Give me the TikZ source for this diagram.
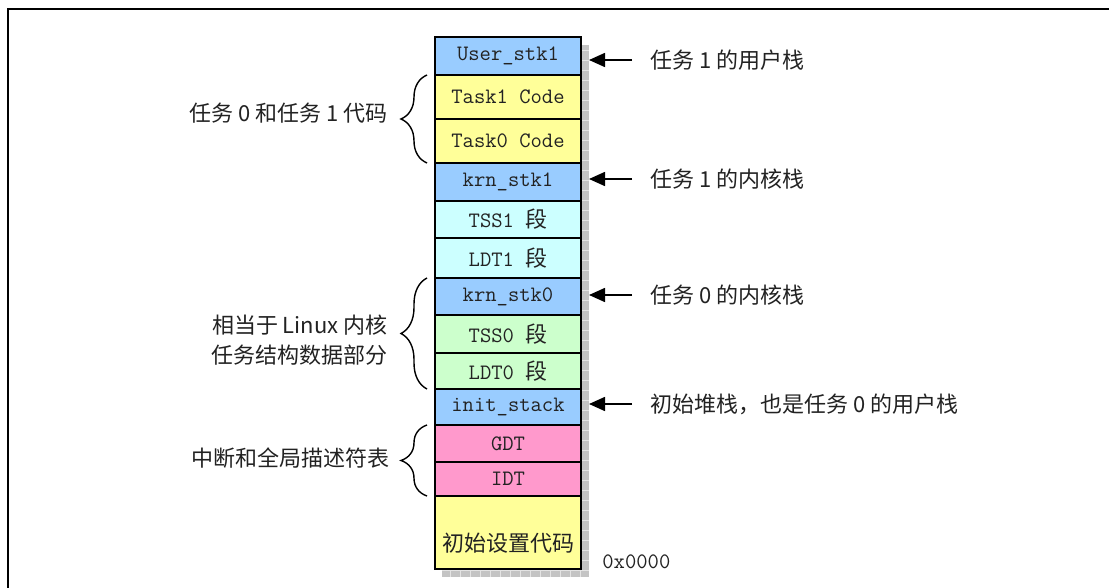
\documentclass[tikz,border=0pt]{standalone}
\usepackage{fontspec}
\usepackage{tikz}
\usetikzlibrary{arrows.meta,positioning,decorations.pathreplacing}
\newfontfamily\cjk{Noto Sans CJK SC}
\definecolor{stkblue}{HTML}{99CCFF}
\definecolor{codeyel}{HTML}{FFFF99}
\definecolor{segcyan}{HTML}{CCFFFF}
\definecolor{seggreen}{HTML}{CCFFCC}
\definecolor{descpink}{HTML}{FF99CC}
\definecolor{shadebase}{HTML}{C4C4C4}
\definecolor{shadeline}{HTML}{E4E4E4}
\definecolor{ink}{HTML}{222222}
\newcommand{\lblsize}{\fontsize{11pt}{15pt}\selectfont}
\tikzset{
  cell/.style={draw=black, line width=1pt, minimum width=73pt, inner sep=1pt,
               outer sep=0pt, font=\lblsize\ttfamily, text=ink},
  ptr/.style={-{Triangle[length=8pt,width=7pt]}, line width=0.8pt, shorten <=9pt},
  rlabel/.style={anchor=west, inner sep=0pt, font=\lblsize\cjk, text=ink},
  llabel/.style={anchor=east, inner sep=0pt, align=right, font=\lblsize\cjk, text=ink},
  brace/.style={decorate, decoration={brace, amplitude=13pt}, line width=0.7pt},
  frame/.style={line width=1.2pt}
}

\begin{document}
\begin{tikzpicture}[x=0.5pt,y=-0.5pt]
    \useasboundingbox (0,0) rectangle (1109,588);
    % Outer frame
    \draw[frame] (8,620) |- (1140,9);

    % Shadow behind the column
    \fill[shadebase] (442,45) rectangle (589,577);
    \draw[shadeline, line width=0.4pt, step=5pt] (442,45) grid (589,577);
    \coordinate (shd) at (589,45);

    % Memory column, top to bottom
    \node[cell,fill=stkblue,minimum height=19pt] (ustk1) at (508,56) {User\_stk1};
    \node[cell,fill=codeyel,minimum height=22pt,below=0pt of ustk1] (task1) {Task1 Code};
    \node[cell,fill=codeyel,minimum height=22pt,below=0pt of task1] (task0) {Task0 Code};
    \node[cell,fill=stkblue,minimum height=19pt,below=0pt of task0] (kstk1) {krn\_stk1};
    \node[cell,fill=segcyan,minimum height=18.5pt,below=0pt of kstk1] (tss1) {TSS1 {\cjk 段}};
    \node[cell,fill=segcyan,minimum height=20pt,below=0pt of tss1] (ldt1) {LDT1 {\cjk 段}};
    \node[cell,fill=stkblue,minimum height=18.5pt,below=0pt of ldt1] (kstk0) {krn\_stk0};
    \node[cell,fill=seggreen,minimum height=19pt,below=0pt of kstk0] (tss0) {TSS0 {\cjk 段}};
    \node[cell,fill=seggreen,minimum height=18pt,below=0pt of tss0] (ldt0) {LDT0 {\cjk 段}};
    \node[cell,fill=stkblue,minimum height=18pt,below=0pt of ldt0] (istk) {init\_stack};
    \node[cell,fill=descpink,minimum height=18.5pt,below=0pt of istk] (gdt) {GDT};
    \node[cell,fill=descpink,minimum height=17pt,below=0pt of gdt] (idt) {IDT};
    \node[cell,fill=codeyel,minimum height=36.5pt,below=0pt of idt] (boot) {};
    \node[font=\lblsize\cjk, text=ink, inner sep=0pt] (bootTxt) at (508,543) {初始设置代码};
    \node[font=\lblsize\ttfamily, text=ink, anchor=west, inner sep=0pt] (base) at (602,562) {0x0000};

    % Pointers on the right
    \node[rlabel] (ustkNote) at (650,60) {任务 1 的用户栈};
    \node[rlabel] (kstk1Note) at (650,179) {任务 1 的内核栈};
    \node[rlabel] (kstk0Note) at (650,295) {任务 0 的内核栈};
    \node[rlabel] (istkNote) at (650,404) {初始堆栈，也是任务 0 的用户栈};
    \draw[ptr] (ustkNote.west) -- (ustkNote.west -| shd);
    \draw[ptr] (kstk1Note.west) -- (kstk1Note.west -| shd);
    \draw[ptr] (kstk0Note.west) -- (kstk0Note.west -| shd);
    \draw[ptr] (istkNote.west) -- (istkNote.west -| shd);

    % Braces on the left
    \draw[brace] ([xshift=-4pt]task0.south west) -- ([xshift=-4pt]task1.north west);
    \node[llabel] (codeNote) at (388,113) {任务 0 和任务 1 代码};
    \draw[brace] ([xshift=-4pt]ldt0.south west) -- ([xshift=-4pt]kstk0.north west);
    \node[llabel] (tssNote) at (388,340) {相当于 Linux 内核\\任务结构数据部分};
    \draw[brace] ([xshift=-4pt]idt.south west) -- ([xshift=-4pt]gdt.north west);
    \node[llabel] (descNote) at (390,458) {中断和全局描述符表};
  \end{tikzpicture}
\end{document}
